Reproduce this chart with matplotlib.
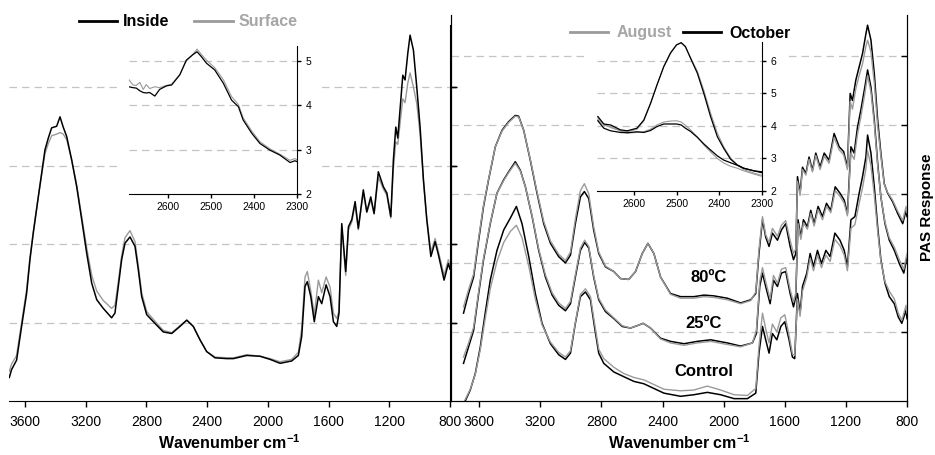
import matplotlib
matplotlib.use("Agg")
import matplotlib.pyplot as plt
from matplotlib.lines import Line2D
from matplotlib.patches import Rectangle

plt.rcParams['font.family'] = ['Liberation Sans', 'DejaVu Sans']
plt.rcParams['mathtext.fontset'] = 'custom'
plt.rcParams['mathtext.rm'] = 'Liberation Sans'
plt.rcParams['mathtext.bf'] = 'Liberation Sans:bold'

BLACK = '#000000'
GREY = '#9a9a9a'
GRID = '#c4c4c4'

# ---- left panel: wood inside vs surface ----
wn_left = [3703, 3688, 3655, 3622, 3589, 3567, 3545, 3512, 3490, 3468, 3446, 3424, 3391, 3369,
           3348, 3325, 3292, 3259, 3226, 3193, 3160, 3127, 3084, 3029, 3007, 2985, 2963, 2941,
           2908, 2875, 2853, 2831, 2798, 2754, 2689, 2633, 2579, 2534, 2491, 2447, 2403, 2348,
           2271, 2227, 2139, 2051, 1985, 1919, 1843, 1799, 1777, 1755, 1740, 1717, 1694, 1667,
           1645, 1616, 1590, 1568, 1546, 1531, 1513, 1487, 1469, 1447, 1425, 1404, 1371, 1348,
           1322, 1300, 1272, 1239, 1216, 1190, 1173, 1157, 1144, 1111, 1096, 1078, 1063, 1041,
           1019, 997, 975, 953, 926, 898, 876, 839, 811, 800]
inside = [0.30, 0.40, 0.52, 0.95, 1.37, 1.80, 2.14, 2.60, 2.90, 3.20, 3.35, 3.48, 3.50, 3.62,
          3.49, 3.37, 3.07, 2.73, 2.31, 1.88, 1.50, 1.29, 1.18, 1.06, 1.12, 1.46, 1.80, 2.01,
          2.09, 1.97, 1.67, 1.33, 1.10, 1.01, 0.88, 0.86, 0.95, 1.03, 0.95, 0.78, 0.63, 0.55,
          0.54, 0.54, 0.58, 0.57, 0.53, 0.48, 0.51, 0.58, 0.82, 1.46, 1.52, 1.33, 1.01, 1.33,
          1.24, 1.48, 1.33, 1.01, 0.95, 1.12, 2.26, 1.65, 2.22, 2.31, 2.54, 2.20, 2.69, 2.41,
          2.60, 2.39, 2.92, 2.73, 2.65, 2.35, 3.07, 3.49, 3.35, 4.15, 4.09, 4.43, 4.66, 4.47,
          4.00, 3.49, 2.82, 2.31, 1.84, 2.03, 1.86, 1.54, 1.75, 1.68]
surface = [0.38, 0.47, 0.58, 1.00, 1.42, 1.83, 2.16, 2.60, 2.88, 3.15, 3.28, 3.38, 3.40, 3.42,
           3.40, 3.33, 3.07, 2.75, 2.35, 1.95, 1.60, 1.40, 1.28, 1.18, 1.22, 1.52, 1.85, 2.08,
           2.17, 2.03, 1.72, 1.38, 1.14, 1.04, 0.90, 0.87, 0.96, 1.03, 0.95, 0.78, 0.63, 0.56,
           0.55, 0.55, 0.59, 0.57, 0.54, 0.50, 0.53, 0.62, 0.92, 1.58, 1.65, 1.40, 1.10, 1.54,
           1.38, 1.58, 1.45, 1.12, 1.05, 1.15, 2.22, 1.60, 2.18, 2.28, 2.50, 2.18, 2.65, 2.40,
           2.56, 2.38, 2.85, 2.70, 2.62, 2.33, 2.95, 3.30, 3.27, 3.85, 3.80, 4.05, 4.18, 4.00,
           3.79, 3.40, 2.80, 2.33, 1.90, 2.07, 1.90, 1.60, 1.80, 1.72]

wn_zoom_left = [2690, 2681, 2673, 2665, 2657, 2650, 2642, 2630, 2619, 2603, 2591, 2572, 2557,
                2541, 2532, 2522, 2510, 2491, 2471, 2452, 2436, 2425, 2405, 2386, 2363, 2340,
                2316, 2305, 2300]
inside_zoom = [4.42, 4.40, 4.39, 4.33, 4.29, 4.28, 4.29, 4.21, 4.36, 4.44, 4.46, 4.69, 5.02,
               5.15, 5.21, 5.10, 4.95, 4.80, 4.50, 4.12, 3.97, 3.67, 3.37, 3.14, 2.99, 2.88,
               2.71, 2.75, 2.73]
surface_zoom = [4.58, 4.46, 4.45, 4.52, 4.36, 4.47, 4.38, 4.42, 4.40, 4.45, 4.48, 4.70, 5.00,
                5.16, 5.27, 5.15, 5.02, 4.85, 4.58, 4.20, 4.02, 3.72, 3.42, 3.18, 3.02, 2.90,
                2.76, 2.80, 2.77]

# ---- right panel: August vs October, three treatments ----
wn_80 = [3703, 3670, 3637, 3604, 3572, 3539, 3495, 3451, 3408, 3364, 3342, 3309, 3266, 3222,
         3178, 3134, 3080, 3036, 3003, 2971, 2938, 2912, 2883, 2851, 2818, 2774, 2719, 2675,
         2621, 2577, 2533, 2496, 2457, 2413, 2348, 2282, 2195, 2129, 2064, 1976, 1889, 1823,
         1790, 1769, 1746, 1725, 1703, 1681, 1648, 1622, 1594, 1565, 1543, 1528, 1517, 1500,
         1484, 1462, 1441, 1419, 1397, 1369, 1342, 1310, 1277, 1244, 1215, 1190, 1172, 1157,
         1135, 1113, 1091, 1069, 1058, 1036, 1014, 992, 971, 949, 927, 894, 861, 828, 806, 800]
oct_80 = [1.12, 1.37, 1.58, 2.05, 2.48, 2.82, 3.24, 3.45, 3.56, 3.64, 3.63, 3.45, 3.07, 2.65,
          2.26, 2.01, 1.84, 1.76, 1.86, 2.26, 2.60, 2.67, 2.58, 2.18, 1.88, 1.71, 1.65, 1.56,
          1.55, 1.65, 1.88, 2.01, 1.88, 1.58, 1.37, 1.33, 1.33, 1.35, 1.34, 1.31, 1.25, 1.29,
          1.37, 1.88, 2.31, 2.09, 1.97, 2.14, 2.05, 2.18, 2.26, 1.97, 1.80, 1.88, 2.86, 2.65,
          2.98, 2.90, 3.11, 2.94, 3.16, 2.98, 3.16, 3.07, 3.41, 3.24, 3.18, 2.98, 3.92, 3.83,
          4.09, 4.26, 4.43, 4.68, 4.79, 4.60, 4.17, 3.58, 3.16, 2.77, 2.65, 2.54, 2.39, 2.26,
          2.43, 2.35]
aug_80 = [1.20, 1.42, 1.62, 2.08, 2.50, 2.83, 3.24, 3.44, 3.55, 3.63, 3.62, 3.45, 3.08, 2.67,
          2.29, 2.04, 1.87, 1.79, 1.90, 2.32, 2.68, 2.77, 2.64, 2.22, 1.90, 1.72, 1.65, 1.56,
          1.55, 1.65, 1.88, 2.01, 1.88, 1.58, 1.36, 1.31, 1.31, 1.33, 1.32, 1.29, 1.24, 1.28,
          1.39, 1.93, 2.35, 2.12, 2.02, 2.20, 2.10, 2.24, 2.30, 2.05, 1.88, 1.94, 2.80, 2.62,
          2.95, 2.88, 3.08, 2.92, 3.13, 2.95, 3.12, 3.03, 3.36, 3.20, 3.14, 2.95, 3.82, 3.72,
          3.98, 4.15, 4.30, 4.52, 4.60, 4.45, 4.05, 3.50, 3.12, 2.76, 2.66, 2.56, 2.42, 2.30,
          2.48, 2.40]

wn_25 = [3703, 3670, 3637, 3604, 3572, 3528, 3484, 3440, 3408, 3364, 3331, 3298, 3254, 3211,
         3167, 3123, 3080, 3036, 3003, 2971, 2938, 2910, 2883, 2851, 2818, 2774, 2719, 2664,
         2610, 2566, 2527, 2479, 2413, 2348, 2260, 2173, 2085, 1976, 1889, 1812, 1786, 1764,
         1746, 1725, 1696, 1674, 1648, 1622, 1594, 1565, 1543, 1528, 1513, 1495, 1478, 1452,
         1430, 1408, 1382, 1353, 1327, 1299, 1270, 1239, 1211, 1190, 1167, 1146, 1124, 1102,
         1076, 1058, 1036, 1014, 992, 971, 944, 916, 883, 850, 821, 800]
oct_25 = [0.48, 0.69, 0.90, 1.37, 1.80, 2.26, 2.65, 2.82, 2.92, 3.05, 2.94, 2.73, 2.35, 1.92,
          1.58, 1.35, 1.22, 1.15, 1.24, 1.58, 1.92, 2.02, 1.95, 1.58, 1.29, 1.14, 1.05, 0.95,
          0.93, 0.96, 0.99, 0.93, 0.80, 0.76, 0.73, 0.76, 0.78, 0.74, 0.70, 0.74, 0.86, 1.46,
          1.63, 1.46, 1.24, 1.54, 1.46, 1.63, 1.65, 1.37, 1.20, 1.33, 2.31, 2.09, 2.31, 2.22,
          2.43, 2.26, 2.48, 2.35, 2.52, 2.43, 2.73, 2.65, 2.56, 2.39, 3.24, 3.16, 3.49, 3.71,
          4.00, 4.22, 4.00, 3.58, 3.03, 2.60, 2.26, 2.05, 1.92, 1.75, 1.63, 1.84]
aug_25 = [0.56, 0.74, 0.94, 1.40, 1.82, 2.27, 2.65, 2.81, 2.91, 3.03, 2.93, 2.73, 2.36, 1.94,
          1.61, 1.38, 1.25, 1.18, 1.27, 1.61, 1.95, 2.05, 1.97, 1.60, 1.31, 1.16, 1.06, 0.96,
          0.93, 0.96, 0.99, 0.93, 0.79, 0.74, 0.71, 0.74, 0.76, 0.72, 0.69, 0.74, 0.90, 1.52,
          1.70, 1.52, 1.30, 1.60, 1.50, 1.68, 1.70, 1.42, 1.26, 1.38, 2.26, 2.06, 2.27, 2.19,
          2.39, 2.23, 2.44, 2.31, 2.48, 2.40, 2.68, 2.61, 2.52, 2.36, 3.16, 3.08, 3.40, 3.62,
          3.92, 4.15, 3.94, 3.53, 3.00, 2.60, 2.28, 2.08, 1.96, 1.80, 1.68, 1.88]

wn_ctrl = [3692, 3659, 3626, 3593, 3561, 3528, 3484, 3440, 3397, 3357, 3320, 3276, 3233, 3189,
           3134, 3080, 3036, 3003, 2971, 2938, 2905, 2872, 2846, 2818, 2785, 2719, 2654, 2588,
           2523, 2457, 2391, 2282, 2195, 2107, 2020, 1932, 1845, 1790, 1769, 1746, 1725, 1703,
           1681, 1652, 1626, 1600, 1572, 1550, 1535, 1517, 1500, 1484, 1456, 1434, 1412, 1386,
           1360, 1331, 1303, 1272, 1239, 1211, 1190, 1167, 1141, 1113, 1091, 1069, 1058, 1036,
           1014, 992, 971, 944, 916, 883, 857, 834, 806, 800]
oct_ctrl = [0.00, 0.14, 0.35, 0.69, 1.12, 1.54, 1.92, 2.18, 2.33, 2.48, 2.26, 1.84, 1.37, 0.99,
            0.73, 0.59, 0.53, 0.61, 0.99, 1.33, 1.39, 1.29, 0.95, 0.61, 0.48, 0.37, 0.31, 0.25,
            0.22, 0.16, 0.10, 0.06, 0.08, 0.11, 0.08, 0.03, 0.03, 0.10, 0.61, 0.95, 0.78, 0.61,
            0.86, 0.78, 0.95, 1.01, 0.78, 0.56, 0.54, 1.37, 1.12, 1.46, 1.63, 1.88, 1.71, 1.92,
            1.75, 1.92, 1.84, 2.14, 2.05, 1.92, 1.71, 2.31, 2.35, 2.65, 2.86, 3.11, 3.39, 3.16,
            2.73, 2.22, 1.80, 1.50, 1.33, 1.24, 1.07, 0.99, 1.16, 1.05]
aug_ctrl = [0.02, 0.15, 0.34, 0.66, 1.05, 1.43, 1.78, 2.02, 2.16, 2.24, 2.08, 1.72, 1.30, 0.97,
            0.75, 0.62, 0.56, 0.64, 1.00, 1.36, 1.43, 1.33, 1.00, 0.66, 0.54, 0.43, 0.35, 0.30,
            0.27, 0.21, 0.15, 0.13, 0.14, 0.19, 0.14, 0.08, 0.07, 0.16, 0.70, 1.12, 0.92, 0.74,
            0.98, 0.88, 1.06, 1.10, 0.84, 0.60, 0.58, 1.30, 1.08, 1.40, 1.58, 1.82, 1.66, 1.86,
            1.70, 1.86, 1.78, 2.06, 1.98, 1.86, 1.66, 2.20, 2.25, 2.52, 2.72, 2.96, 3.19, 3.00,
            2.62, 2.16, 1.78, 1.52, 1.40, 1.30, 1.12, 1.03, 1.22, 1.12]

wn_zoom_right = [2686, 2672, 2656, 2633, 2617, 2594, 2578, 2562, 2547, 2531, 2515, 2501, 2490,
                 2480, 2468, 2452, 2437, 2421, 2405, 2390, 2374, 2358, 2343, 2319, 2300]
oct_80_zoom = [4.29, 4.06, 4.03, 3.88, 3.85, 3.93, 4.18, 4.70, 5.26, 5.82, 6.24, 6.49, 6.56,
               6.44, 6.08, 5.62, 5.01, 4.29, 3.67, 3.31, 2.98, 2.80, 2.70, 2.62, 2.59]
aug_80_zoom = [4.20, 4.02, 3.98, 3.85, 3.82, 3.90, 4.15, 4.68, 5.25, 5.84, 6.26, 6.50, 6.55,
               6.42, 6.10, 5.68, 5.10, 4.40, 3.78, 3.36, 3.02, 2.80, 2.66, 2.55, 2.48]
oct_25_zoom = [4.16, 3.93, 3.85, 3.80, 3.79, 3.82, 3.80, 3.86, 3.98, 4.06, 4.06, 4.06, 4.03,
               3.93, 3.83, 3.65, 3.45, 3.26, 3.08, 2.95, 2.87, 2.79, 2.70, 2.62, 2.56]
aug_25_zoom = [4.25, 4.05, 3.95, 3.85, 3.78, 3.80, 3.82, 3.90, 4.03, 4.12, 4.15, 4.16, 4.12,
               4.02, 3.88, 3.66, 3.42, 3.20, 3.00, 2.86, 2.76, 2.70, 2.62, 2.52, 2.45]

xticks_main = [3600, 3200, 2800, 2400, 2000, 1600, 1200, 800]
xticks_zoom = [2600, 2500, 2400, 2300]
treatments = ['80ºC', '25ºC', 'Control']
treatment_pos = [(2098, 1.58), (2131, 0.99), (2131, 0.38)]

dash = (0, (6, 4))

fig = plt.figure(figsize=(9.35, 4.55), dpi=100)


def style_main(ax, xlim, ylim):
    ax.set_xlim(*xlim)
    ax.set_ylim(*ylim)
    ax.set_xticks(xticks_main)
    ax.set_xticklabels([str(t) for t in xticks_main], fontsize=10)
    ax.tick_params(axis='x', direction='out', length=4, width=1, pad=6)
    ax.set_yticks([1, 2, 3, 4])
    ax.set_yticklabels([])
    ax.spines['top'].set_visible(False)
    ax.set_xlabel(r'Wavenumber cm$^{\mathbf{-1}}$', fontsize=11.5, fontweight='bold', labelpad=3)


def style_zoom(ax, xlim, ylim, yticks):
    ax.set_xlim(*xlim)
    ax.set_ylim(*ylim)
    ax.set_xticks(xticks_zoom)
    ax.set_xticklabels([str(t) for t in xticks_zoom], fontsize=7.5)
    ax.set_yticks(yticks)
    ax.set_yticklabels([str(t) for t in yticks], fontsize=7.5)
    ax.yaxis.tick_right()
    ax.tick_params(direction='out', length=3, width=1, pad=3)
    ax.spines['top'].set_visible(False)
    ax.spines['left'].set_visible(False)
    for y in yticks[1:]:
        ax.axhline(y, color=GRID, lw=0.9, ls=dash, zorder=1)
    # white box behind the inset and its tick labels
    ax.add_patch(Rectangle((-0.06, -0.13), 1.2, 1.18, transform=ax.transAxes,
                           facecolor='white', edgecolor='none', clip_on=False, zorder=0))


# left panel
ax1 = fig.add_axes([9 / 935, 54 / 455, 441 / 935, 376 / 455])
style_main(ax1, (3705, 800), (0, 4.79))
ax1.spines['left'].set_visible(False)
ax1.yaxis.tick_right()
ax1.tick_params(axis='y', direction='out', length=4, width=1)
for y in [1, 2, 3, 4]:
    ax1.axhline(y, color=GRID, lw=0.9, ls=dash, zorder=1)
ax1.plot(wn_left, surface, color=GREY, lw=1.0, zorder=2)
ax1.plot(wn_left, inside, color=BLACK, lw=1.1, zorder=3)

ins1 = fig.add_axes([129 / 935, 261 / 455, 168 / 935, 148 / 455])
style_zoom(ins1, (2690, 2300), (2, 5.34), [2, 3, 4, 5])
ins1.plot(wn_zoom_left, surface_zoom, color=GREY, lw=0.8, zorder=2)
ins1.plot(wn_zoom_left, inside_zoom, color=BLACK, lw=0.9, zorder=3)

fig.legend(handles=[Line2D([], [], color=BLACK, lw=2), Line2D([], [], color=GREY, lw=2)],
           labels=['Inside', 'Surface'], loc='center', bbox_to_anchor=(188 / 935, 1 - 22 / 455),
           ncol=2, frameon=False, handlelength=2.4, handletextpad=0.35, columnspacing=1.6,
           prop={'weight': 'bold', 'size': 11.5})
leg1 = fig.legends[-1]
for txt, col in zip(leg1.get_texts(), [BLACK, '#a6a6a6']):
    txt.set_color(col)

# right panel
ax2 = fig.add_axes([451 / 935, 54 / 455, 456 / 935, 386 / 455])
style_main(ax2, (3785, 800), (0, 4.92))
ax2.tick_params(axis='y', direction='in', length=4, width=1)
grid_ax = ax2.twinx()
grid_ax.set_ylim(0, 5.594)
grid_ax.set_yticks([1, 2, 3, 4, 5])
grid_ax.set_yticklabels([])
grid_ax.tick_params(axis='y', direction='in', length=4, width=1)
grid_ax.spines['top'].set_visible(False)
for y in [1, 2, 3, 4, 5]:
    grid_ax.axhline(y, color=GRID, lw=0.9, ls=dash, zorder=1)
ax2.set_zorder(grid_ax.get_zorder() + 1)
ax2.patch.set_visible(False)

for wn, aug, octo in [(wn_80, aug_80, oct_80), (wn_25, aug_25, oct_25), (wn_ctrl, aug_ctrl, oct_ctrl)]:
    ax2.plot(wn, octo, color=BLACK, lw=1.1, zorder=2)
    ax2.plot(wn, aug, color=GREY, lw=1.0, zorder=3)
for name, (x, y) in zip(treatments, treatment_pos):
    ax2.text(x, y, name, ha='center', va='center', fontsize=12, fontweight='bold', zorder=4)

ins2 = fig.add_axes([597 / 935, 264 / 455, 165 / 935, 149 / 455])
style_zoom(ins2, (2688, 2300), (2, 6.58), [2, 3, 4, 5, 6])
ins2.plot(wn_zoom_right, aug_80_zoom, color=GREY, lw=0.8, zorder=2)
ins2.plot(wn_zoom_right, oct_80_zoom, color=BLACK, lw=0.9, zorder=3)
ins2.plot(wn_zoom_right, aug_25_zoom, color=GREY, lw=0.8, zorder=2)
ins2.plot(wn_zoom_right, oct_25_zoom, color=BLACK, lw=0.9, zorder=3)

fig.legend(handles=[Line2D([], [], color=GREY, lw=2), Line2D([], [], color=BLACK, lw=2)],
           labels=['August', 'October'], loc='center', bbox_to_anchor=(680 / 935, 1 - 33 / 455),
           ncol=2, frameon=False, handlelength=2.4, handletextpad=0.5, columnspacing=0.7,
           prop={'weight': 'bold', 'size': 11.5})
leg2 = fig.legends[-1]
for txt, col in zip(leg2.get_texts(), ['#a6a6a6', BLACK]):
    txt.set_color(col)

fig.text(927 / 935, 1 - 207 / 455, 'PAS Response', rotation=90, ha='center', va='center',
         fontsize=11, fontweight='bold')

fig.savefig('out.png', dpi=100)
